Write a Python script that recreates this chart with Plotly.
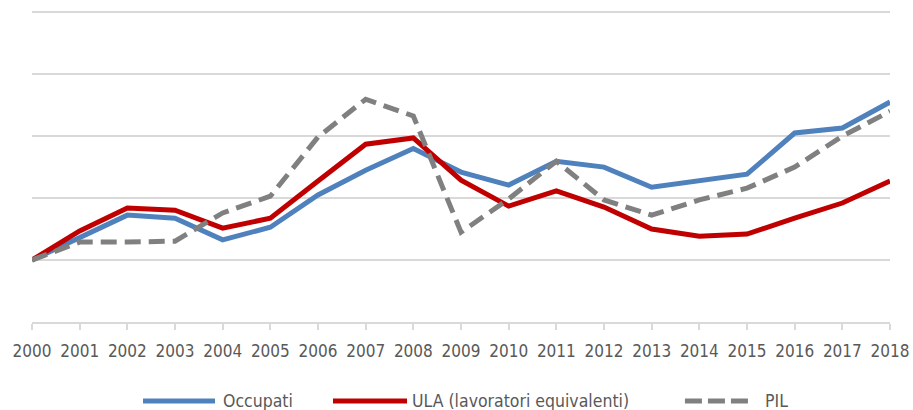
import plotly.graph_objects as go

years = list(range(2000, 2019))

occupati = [100.0, 100.71, 101.45, 101.35, 100.65, 101.06, 102.1, 102.9, 103.6, 102.84,
            102.42, 103.19, 103.0, 102.35, 102.58, 102.77, 104.1, 104.26, 105.1]
ula = [100.0, 100.94, 101.68, 101.61, 101.03, 101.35, 102.55, 103.74, 103.94, 102.58,
       101.74, 102.23, 101.71, 101.0, 100.77, 100.84, 101.35, 101.84, 102.55]
pil = [100.0, 100.58, 100.58, 100.61, 101.52, 102.06, 103.97, 105.19, 104.65, 100.9,
       101.97, 103.19, 101.94, 101.45, 101.94, 102.32, 103.0, 104.0, 104.8]

series_names = ["Occupati", "ULA (lavoratori equivalenti)", "PIL"]
series_colors = ["#4F81BD", "#C00000", "#808080"]

font_family = "DejaVu Sans Condensed, Liberation Sans Narrow, sans-serif"
text_color = "#595959"

fig = go.Figure()
fig.add_trace(go.Scatter(x=years, y=occupati, mode="lines", name=series_names[0],
                         line=dict(color=series_colors[0], width=5)))
fig.add_trace(go.Scatter(x=years, y=ula, mode="lines", name=series_names[1],
                         line=dict(color=series_colors[1], width=5)))
fig.add_trace(go.Scatter(x=years, y=pil, mode="lines", name=series_names[2],
                         line=dict(color=series_colors[2], width=5, dash="16px,8px")))

# legend drawn by hand (Excel-style long samples), ~79px below the x axis
legend_y = -79 / 316
legend_items = [
    (0.1294, 0.2133, 0.2203, "solid"),
    (0.3508, 0.4371, 0.4406, "solid"),
    (0.7610, 0.8368, 0.8520, "17px,6px"),
]
for (x0, x1, xt, dash), name, color in zip(legend_items, series_names, series_colors):
    fig.add_shape(type="line", xref="paper", yref="paper", x0=x0, x1=x1,
                  y0=legend_y, y1=legend_y, line=dict(color=color, width=5, dash=dash))
    fig.add_annotation(xref="paper", yref="paper", x=xt, y=legend_y, text=name,
                       showarrow=False, xanchor="left", yanchor="middle",
                       font=dict(family=font_family, size=17.5, color=text_color))

fig.update_layout(
    width=913, height=410,
    margin=dict(l=32, r=23, t=6, b=88),
    plot_bgcolor="white", paper_bgcolor="white",
    font=dict(family=font_family, size=17, color=text_color),
    showlegend=False,
    xaxis=dict(range=[2000, 2018], tickmode="linear", dtick=1, showgrid=False,
               showline=True, linecolor="#d9d9d9", linewidth=1.5,
               ticks="outside", ticklen=6, tickcolor="#d9d9d9", tickwidth=1.5,
               ticklabelstandoff=7, zeroline=False, automargin=False),
    yaxis=dict(range=[98, 108.2], tick0=98, dtick=2, showgrid=True, gridcolor="#d9d9d9",
               gridwidth=1.5, showticklabels=False, zeroline=False, showline=False,
               automargin=False),
)

# drop the browser's default body margin so the figure fills the window
fig.write_html("out.html", config={"displayModeBar": False},
               post_script="document.body.style.margin='0';document.body.style.overflow='hidden';")
